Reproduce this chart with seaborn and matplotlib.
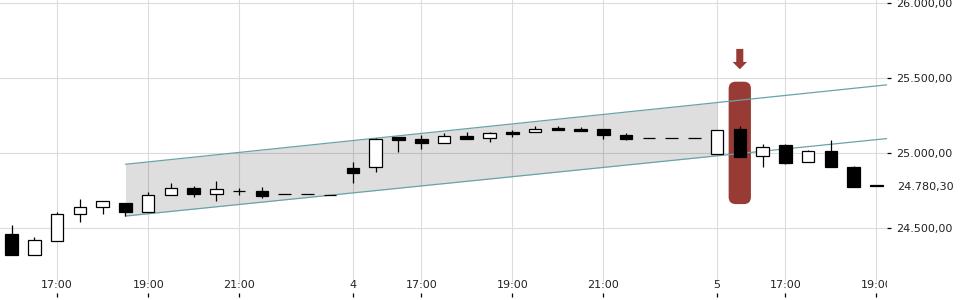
import numpy as np
import pandas as pd
import matplotlib
matplotlib.use("Agg")
import matplotlib.pyplot as plt
from matplotlib.patches import FancyBboxPatch, FancyArrow
import seaborn as sns

# ---------------- data ----------------
days = ["3"] * 15 + ["4"] * 16 + ["5"] * 8
times = ["16:00", "16:30", "17:00", "17:30", "18:00", "18:30", "19:00", "19:30",
         "20:00", "20:30", "21:00", "21:30", "22:00", "22:30", "23:00",
         "15:30", "16:00", "16:30", "17:00", "17:30", "18:00", "18:30", "19:00",
         "19:30", "20:00", "20:30", "21:00", "21:30", "22:00", "22:30", "23:00",
         "15:30", "16:00", "16:30", "17:00", "17:30", "18:00", "18:30", "19:00"]
opens = [24458, 24320, 24413, 24590, 24636, 24665, 24607, 24717, 24765, 24723,
         24745, 24743, 24723, 24723, 24721,
         24897, 24908, 25104, 25091, 25064, 25113, 25098, 25140, 25138, 25166,
         25160, 25160, 25120, 25098, 25098, 25098,
         24991, 25158, 24977, 25051, 24937, 25011, 24906, 24784]
highs = [24518, 24438, 24603, 24692, 24676, 24665, 24737, 24797, 24779, 24812,
         24767, 24770, 24723, 24723, 24721,
         24939, 25098, 25104, 25118, 25135, 25140, 25140, 25153, 25180, 25180,
         25173, 25160, 25133, 25098, 25098, 25098,
         25153, 25180, 25060, 25058, 25019, 25086, 24910, 24784]
lows = [24320, 24320, 24413, 24540, 24594, 24580, 24607, 24717, 24707, 24680,
        24719, 24697, 24723, 24723, 24721,
        24801, 24874, 25006, 25028, 25064, 25095, 25075, 25108, 25138, 25155,
        25148, 25095, 25084, 25098, 25098, 25098,
        24991, 24971, 24908, 24924, 24937, 24908, 24774, 24780.30]
closes = [24320, 24416, 24590, 24636, 24676, 24607, 24717, 24763, 24723, 24757,
          24745, 24714, 24723, 24723, 24721,
          24868, 25091, 25088, 25064, 25111, 25095, 25131, 25128, 25160, 25155,
          25148, 25118, 25091, 25098, 25098, 25098,
          25153, 24975, 25042, 24935, 25011, 24908, 24774, 24780.30]

last_price = 24780.30
y_ticks = [24500, 25000, 25500, 26000]

# trend channel (two parallel-ish lines)
channel_start = 5
channel_fill_end = 31
channel_x_end = 38.47
upper_line = [24924, 25455]
lower_line = [24578, 25096]

# highlighted candle / signal
highlight_idx = 32
highlight_range = [24658, 25476]
arrow_range = [25695, 25559]

# ---------------- style ----------------
RED = "#993b35"
TEAL = "#6aa3a6"
GRID = "#dcdcdc"
TXT = "#222222"

sns.set_theme(style="white")
plt.rcParams["font.family"] = ["DejaVu Sans"]

fig = plt.figure(figsize=(9.6, 3.0), dpi=100)
ax = fig.add_axes([0.0, 3 / 300, 887 / 960, 297 / 300])

n = len(opens)
xs = np.arange(n)
df = pd.DataFrame({"x": xs, "day": days, "time": times, "open": opens,
                   "high": highs, "low": lows, "close": closes})

xlim = (-0.514, channel_x_end)
ylim = (24037, 26022)
ax.set_xlim(*xlim)
ax.set_ylim(*ylim)

# x ticks: day starts and odd full hours
tick_pos, tick_lab = [], []
for i in range(n):
    if i > 0 and days[i] != days[i - 1]:
        tick_pos.append(i); tick_lab.append(days[i])
    elif times[i] in ("17:00", "19:00", "21:00"):
        tick_pos.append(i); tick_lab.append(times[i])

# grid
ax.set_axisbelow(True)
ax.yaxis.grid(True, color=GRID, lw=0.8)
ax.xaxis.grid(False)
for p in tick_pos:
    ax.axvline(p, ymin=16 / 297, ymax=1, color=GRID, lw=0.8, zorder=0)

# channel shading
fx = np.array([channel_start, channel_fill_end])
def line_at(line, x):
    return line[0] + (line[1] - line[0]) * (x - channel_start) / (channel_x_end - channel_start)
ax.fill_between(fx, line_at(lower_line, fx), line_at(upper_line, fx),
                color="black", alpha=0.13, lw=0, zorder=1)

# highlight
hb = FancyBboxPatch((highlight_idx - 0.49, highlight_range[0]), 0.98,
                    highlight_range[1] - highlight_range[0],
                    boxstyle="round,pad=0,rounding_size=0.31",
                    mutation_aspect=152, fc=RED, ec="none", zorder=2)
ax.add_patch(hb)
ax.add_patch(FancyArrow(highlight_idx, arrow_range[0], 0, arrow_range[1] - arrow_range[0],
                        width=0.31, head_width=0.64, head_length=49,
                        length_includes_head=True, fc=RED, ec="none", zorder=2))

# channel lines (seaborn)
ch = pd.DataFrame({
    "x": [channel_start, channel_x_end, channel_start, channel_x_end],
    "y": upper_line + lower_line,
    "line": ["upper", "upper", "lower", "lower"],
})
sns.lineplot(data=ch, x="x", y="y", units="line", estimator=None,
             color=TEAL, lw=0.9, ax=ax, zorder=3)

# candles
up = df["close"] >= df["open"]
ax.vlines(df["x"], df["low"], df["high"], color="black", lw=0.9, zorder=4)
bottoms = np.minimum(df["open"], df["close"])
heights = np.abs(df["close"] - df["open"])
ax.bar(df["x"], heights, bottom=bottoms, width=0.55,
       color=np.where(up, "white", "black"), edgecolor="black", linewidth=0.9, zorder=5)

# axes cosmetics
for s in ax.spines.values():
    s.set_visible(False)
ax.set_xlabel(""); ax.set_ylabel("")

ax.set_xticks(tick_pos)
ax.set_xticklabels(tick_lab)
ax.tick_params(axis="x", direction="in", length=2.9, width=0.9, color="black",
               pad=-11.9, labelsize=8, labelcolor=TXT, bottom=True)

ax.yaxis.tick_right()
ax.set_yticks(y_ticks)
fmt = lambda v: f"{v:,.2f}".replace(",", "X").replace(".", ",").replace("X", ".")
ax.set_yticklabels([fmt(v) for v in y_ticks])
ax.tick_params(axis="y", direction="out", length=2.9, width=0.9, color="black",
               pad=4, labelsize=8, labelcolor=TXT, right=True, left=False)
ax.annotate(fmt(last_price), xy=(1, last_price), xycoords=("axes fraction", "data"),
            xytext=(7.4, 0), textcoords="offset points", ha="left",
            va="center_baseline", fontsize=8, color=TXT, annotation_clip=False)

for t in ax.get_xticklabels():
    t.set_clip_on(True)
    t.set_clip_box(ax.bbox)

fig.savefig("out.png", dpi=100)
